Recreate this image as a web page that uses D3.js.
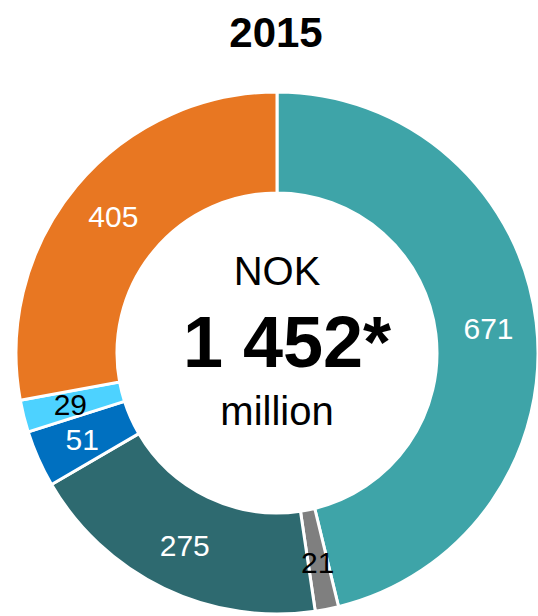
<!DOCTYPE html>
<html>
<head>
<meta charset="utf-8">
<script src="https://cdn.jsdelivr.net/npm/d3@7"></script>
<style>
  body { margin: 0; background: #fff; }
  text { font-family: "Liberation Sans", Arial, sans-serif; }
</style>
</head>
<body>
<div id="donut"></div>
<script>
var categories = ["A", "B", "C", "D", "E", "F"];
var values = [671, 21, 275, 51, 29, 405];
var darkLabels = ["B", "E"];
var year = "2015";
var totalLabel = "1 452";

var width = 538, height = 616;
var cx = 277, cy = 353;
var outerR = 261, innerR = 160;

var color = d3.scaleOrdinal()
    .domain(categories)
    .range(["#3ea4a8", "#7f7f7f", "#2e6a70", "#0070c0", "#4dd2ff", "#e87722"]);

var svg = d3.select("#donut")
    .append("svg")
    .attr("width", width)
    .attr("height", height);

// title
svg.append("text")
    .attr("x", 276)
    .attr("y", 47)
    .style("text-anchor", "middle")
    .style("font-size", "42px")
    .style("font-weight", "bold")
    .text(year);

var g = svg.append("g")
    .attr("transform", `translate(${cx}, ${cy})`);

var data = categories.map(function(c, i) { return {cat: c, value: values[i]}; });

var pie = d3.pie()
    .sort(null)
    .value(function(d) { return d.value; });

var arc = d3.arc()
    .innerRadius(innerR)
    .outerRadius(outerR);

var labelArc = d3.arc()
    .innerRadius(213)
    .outerRadius(213);

var arcs = pie(data);

g.selectAll("path")
    .data(arcs)
    .enter()
    .append("path")
    .attr("d", arc)
    .attr("fill", function(d) { return color(d.data.cat); })
    .attr("stroke", "#fff")
    .attr("stroke-width", 3);

g.selectAll(".lbl")
    .data(arcs)
    .enter()
    .append("text")
    .attr("class", "lbl")
    .attr("transform", function(d) { return `translate(${labelArc.centroid(d)})`; })
    .attr("dy", "0.36em")
    .style("text-anchor", "middle")
    .style("font-size", "30px")
    .attr("fill", function(d) { return darkLabels.indexOf(d.data.cat) >= 0 ? "#000" : "#fff"; })
    .text(function(d) { return d.data.value; });

// centre text
g.append("text")
    .attr("y", -68)
    .style("text-anchor", "middle")
    .style("font-size", "40px")
    .text("NOK");

g.append("text")
    .attr("x", 10)
    .attr("y", 14)
    .style("text-anchor", "middle")
    .style("font-size", "72px")
    .style("font-weight", "bold")
    .text(totalLabel + "*");

g.append("text")
    .attr("y", 72)
    .style("text-anchor", "middle")
    .style("font-size", "40px")
    .text("million");
</script>
</body>
</html>
